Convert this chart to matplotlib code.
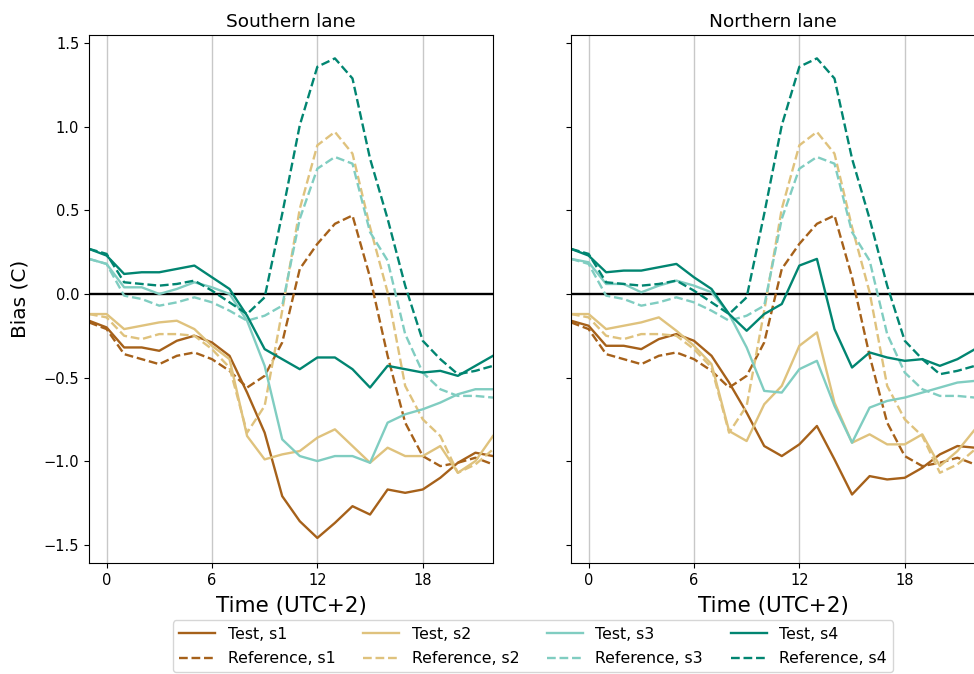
import matplotlib
matplotlib.use("Agg")
import matplotlib.pyplot as plt

hours = list(range(-1, 23))
xticks = [0, 6, 12, 18]
series_names = ["s1", "s2", "s3", "s4"]
colors = ["#a6611a", "#dfc27d", "#80cdc1", "#018571"]
panel_titles = ["Southern lane", "Northern lane"]

# Reference (same in both panels)
ref_s1 = [-0.17, -0.21, -0.36, -0.39, -0.42, -0.37, -0.35, -0.39, -0.46, -0.56, -0.49, -0.29,
          0.15, 0.30, 0.42, 0.47, 0.10, -0.37, -0.77, -0.97, -1.03, -1.01, -0.98, -1.02]
ref_s2 = [-0.12, -0.14, -0.25, -0.27, -0.24, -0.24, -0.25, -0.33, -0.44, -0.83, -0.67, -0.10,
          0.51, 0.89, 0.97, 0.84, 0.40, 0.01, -0.55, -0.75, -0.85, -1.07, -1.02, -0.93]
ref_s3 = [0.21, 0.18, -0.01, -0.03, -0.07, -0.05, -0.02, -0.05, -0.10, -0.16, -0.13, -0.07,
          0.45, 0.75, 0.82, 0.78, 0.37, 0.20, -0.24, -0.47, -0.57, -0.61, -0.61, -0.62]
ref_s4 = [0.27, 0.24, 0.07, 0.06, 0.05, 0.06, 0.08, 0.02, -0.05, -0.12, -0.02, 0.48,
          1.01, 1.36, 1.41, 1.29, 0.81, 0.45, 0.05, -0.28, -0.39, -0.48, -0.46, -0.43]

# Test, southern lane
south_s1 = [-0.16, -0.20, -0.32, -0.32, -0.34, -0.28, -0.25, -0.29, -0.37, -0.59, -0.83, -1.21,
            -1.36, -1.46, -1.37, -1.27, -1.32, -1.17, -1.19, -1.17, -1.10, -1.01, -0.95, -0.97]
south_s2 = [-0.12, -0.12, -0.21, -0.19, -0.17, -0.16, -0.21, -0.31, -0.39, -0.85, -0.99, -0.96,
            -0.94, -0.86, -0.81, -0.91, -1.01, -0.92, -0.97, -0.97, -0.91, -1.07, -1.00, -0.85]
south_s3 = [0.21, 0.18, 0.04, 0.04, 0.00, 0.03, 0.07, 0.04, 0.00, -0.16, -0.43, -0.87,
            -0.97, -1.00, -0.97, -0.97, -1.01, -0.77, -0.72, -0.69, -0.65, -0.60, -0.57, -0.57]
south_s4 = [0.27, 0.23, 0.12, 0.13, 0.13, 0.15, 0.17, 0.10, 0.03, -0.13, -0.33, -0.39,
            -0.45, -0.38, -0.38, -0.45, -0.56, -0.43, -0.45, -0.47, -0.46, -0.49, -0.43, -0.37]

# Test, northern lane
north_s1 = [-0.16, -0.19, -0.31, -0.31, -0.33, -0.27, -0.24, -0.28, -0.37, -0.53, -0.71, -0.91,
            -0.97, -0.90, -0.79, -0.99, -1.20, -1.09, -1.11, -1.10, -1.04, -0.96, -0.91, -0.92]
north_s2 = [-0.12, -0.12, -0.21, -0.19, -0.17, -0.14, -0.22, -0.31, -0.42, -0.82, -0.88, -0.66,
            -0.55, -0.31, -0.23, -0.65, -0.89, -0.84, -0.90, -0.90, -0.84, -1.03, -0.94, -0.81]
north_s3 = [0.21, 0.19, 0.06, 0.06, 0.01, 0.05, 0.08, 0.05, 0.01, -0.12, -0.32, -0.58,
            -0.59, -0.45, -0.40, -0.67, -0.89, -0.68, -0.64, -0.62, -0.59, -0.56, -0.53, -0.52]
north_s4 = [0.27, 0.23, 0.13, 0.14, 0.14, 0.16, 0.18, 0.10, 0.03, -0.12, -0.22, -0.12,
            -0.06, 0.17, 0.21, -0.21, -0.44, -0.35, -0.38, -0.40, -0.39, -0.43, -0.39, -0.33]

ref = [ref_s1, ref_s2, ref_s3, ref_s4]
tests = [[south_s1, south_s2, south_s3, south_s4],
         [north_s1, north_s2, north_s3, north_s4]]

W, H = 974, 674
fig = plt.figure(figsize=(W / 100, H / 100), dpi=100)
ax_l = fig.add_axes([89 / W, (H - 563) / H, 404 / W, 528 / H])
ax_r = fig.add_axes([571 / W, (H - 563) / H, 404 / W, 528 / H], sharey=ax_l)
axes = [ax_l, ax_r]

handles = []
labels = []
for p, ax in enumerate(axes):
    for i, name in enumerate(series_names):
        lt, = ax.plot(hours, tests[p][i], color=colors[i], lw=1.7, ls="-")
        lr, = ax.plot(hours, ref[i], color=colors[i], lw=1.7, ls="--")
        if p == 0:
            handles += [lt, lr]
            labels += [f"Test, {name}", f"Reference, {name}"]
    ax.axhline(0, color="black", lw=1.7, zorder=1)
    ax.set_xlim(-1, 22)
    ax.set_xticks(xticks)
    ax.grid(axis="x", color="#c8c8c8", lw=1.0)
    ax.set_axisbelow(True)
    ax.set_title(panel_titles[p], fontsize=13.3)
    ax.set_xlabel("Time (UTC+2)", fontsize=15.5, labelpad=6)
    ax.tick_params(labelsize=10.5)

ax_l.set_ylim(-1.61, 1.55)
ax_l.set_yticks([-1.5, -1.0, -0.5, 0.0, 0.5, 1.0, 1.5])
ax_l.set_ylabel("Bias (C)", fontsize=14.5, labelpad=10)
plt.setp(ax_r.get_yticklabels(), visible=False)

fig.legend(handles, labels, loc="lower center", ncol=4,
           bbox_to_anchor=(533 / W, 0.0), fontsize=11.3,
           frameon=True, columnspacing=1.75, handlelength=2.3,
           labelspacing=0.6, borderaxespad=0.1)

fig.savefig("out.png", dpi=100)
